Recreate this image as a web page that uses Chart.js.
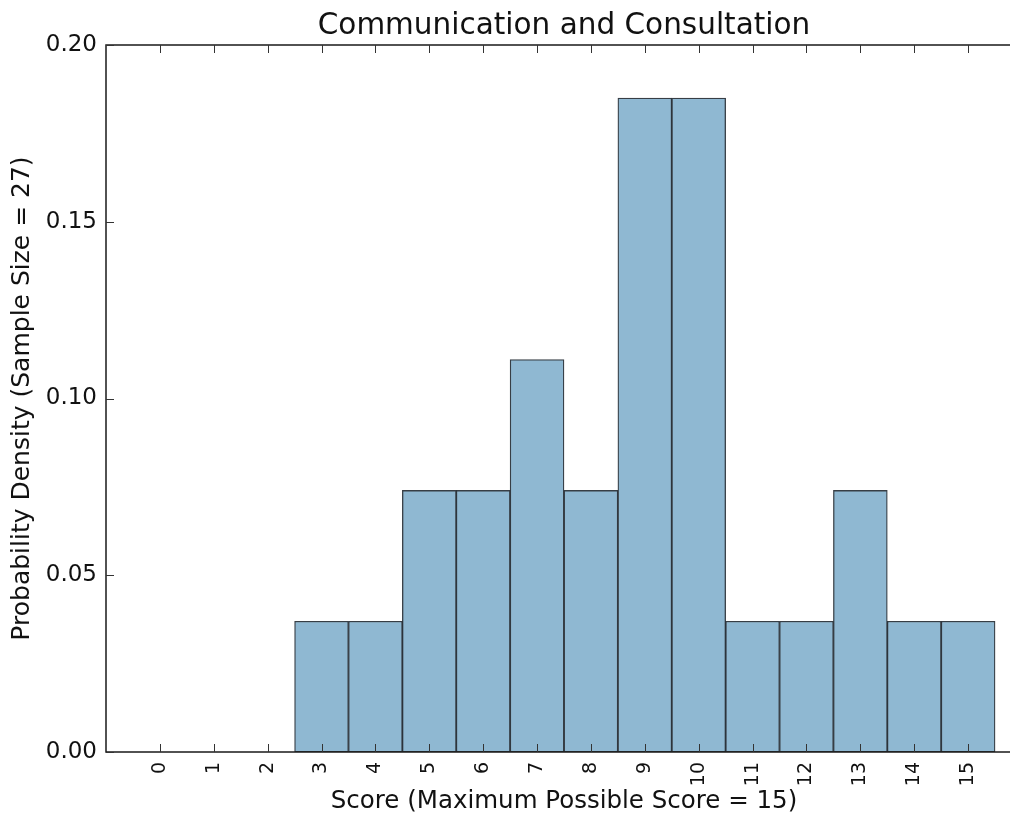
<!DOCTYPE html>
<html>
<head>
<meta charset="utf-8">
<script src="https://cdn.jsdelivr.net/npm/chart.js@4.4.0/dist/chart.umd.min.js"></script>
<style>
  html, body { margin: 0; padding: 0; background: #ffffff; overflow: hidden; }
  #wrap { width: 1128px; height: 816px; position: relative; }
  canvas { display: block; }
</style>
</head>
<body>
<div id="wrap"><canvas id="c" width="1128" height="816"></canvas></div>
<script>
// ---- data ----
const scores = [0, 1, 2, 3, 4, 5, 6, 7, 8, 9, 10, 11, 12, 13, 14, 15];
const density = [0, 0, 0, 0.037, 0.037, 0.074, 0.074, 0.111, 0.074, 0.185, 0.185, 0.037, 0.037, 0.074, 0.037, 0.037];
const yTicks = [0, 0.05, 0.10, 0.15, 0.20];
const xTickLabels = ['0','1','2','3','4','5','6','7','8','9','10','11','12','13','14','15'];
const titleText = 'Communication and Consultation';
const xTitle = 'Score (Maximum Possible Score = 15)';
const yTitle = 'Probability Density (Sample Size = 27)';

const FONT = "'DejaVu Sans', sans-serif";
const points = scores.map((s, i) => ({ x: s, y: density[i] }));

const framePlugin = {
  id: 'frame',
  afterDraw(chart) {
    const { ctx, chartArea: a, scales } = chart;
    ctx.save();
    ctx.strokeStyle = '#1a1a1a';
    ctx.lineWidth = 1.5;
    ctx.beginPath();
    ctx.moveTo(a.right, a.top);
    ctx.lineTo(a.left, a.top);
    ctx.lineTo(a.left, a.bottom);
    ctx.lineTo(a.right, a.bottom);
    ctx.stroke();
    ctx.lineWidth = 1;
    ctx.strokeStyle = '#333';
    ctx.beginPath();
    scales.x.ticks.forEach(t => {
      const px = Math.round(scales.x.getPixelForValue(t.value)) + 0.5;
      ctx.moveTo(px, a.bottom); ctx.lineTo(px, a.bottom - 8);
      ctx.moveTo(px, a.top); ctx.lineTo(px, a.top + 8);
    });
    scales.y.ticks.forEach(t => {
      const py = Math.round(scales.y.getPixelForValue(t.value)) + 0.5;
      ctx.moveTo(a.left, py); ctx.lineTo(a.left + 8, py);
      ctx.moveTo(a.right, py); ctx.lineTo(a.right - 8, py);
    });
    ctx.stroke();
    ctx.restore();
  }
};

new Chart(document.getElementById('c'), {
  type: 'bar',
  data: {
    datasets: [{
      data: points,
      backgroundColor: '#8fb8d2',
      borderColor: 'rgba(20,28,36,0.85)',
      borderWidth: 1.3,
      borderSkipped: false,
      barPercentage: 1.0,
      categoryPercentage: 1.0
    }]
  },
  options: {
    responsive: false,
    animation: false,
    layout: { padding: { left: 0, right: 106, top: 0, bottom: 0 } },
    plugins: {
      legend: { display: false },
      tooltip: { enabled: false },
      title: {
        display: true,
        fullSize: false,
        text: titleText,
        color: '#111',
        font: { family: FONT, size: 29.5, weight: 'normal', lineHeight: 1.2 },
        padding: { top: 9, bottom: 0.6 }
      }
    },
    scales: {
      x: {
        type: 'linear',
        offset: false,
        min: -1,
        max: 16,
        grid: { display: false, drawTicks: false, offset: false },
        border: { display: false },
        afterBuildTicks(scale) {
          scale.ticks = scores.map(v => ({ value: v }));
        },
        afterFit(scale) { scale.height = 64; },
        ticks: {
          autoSkip: false,
          minRotation: 90,
          maxRotation: 90,
          padding: 10,
          color: '#111',
          font: { family: FONT, size: 19 },
          callback: (v, i) => xTickLabels[i]
        },
        title: {
          display: true,
          text: xTitle,
          color: '#111',
          font: { family: FONT, size: 24.5, lineHeight: 1.2 },
          padding: { top: 0, bottom: 0 }
        }
      },
      y: {
        type: 'linear',
        min: 0,
        max: 0.2,
        grid: { display: false, drawTicks: false },
        border: { display: false },
        afterBuildTicks(scale) {
          scale.ticks = yTicks.map(v => ({ value: v }));
        },
        afterFit(scale) { scale.width = 106; },
        ticks: {
          padding: 9,
          color: '#111',
          font: { family: FONT, size: 23 },
          callback: v => Number(v).toFixed(2)
        },
        title: {
          display: true,
          text: yTitle,
          color: '#111',
          font: { family: FONT, size: 25, lineHeight: 1.2 },
          padding: { top: 7, bottom: 0 }
        }
      }
    }
  },
  plugins: [framePlugin]
});
</script>
</body>
</html>
